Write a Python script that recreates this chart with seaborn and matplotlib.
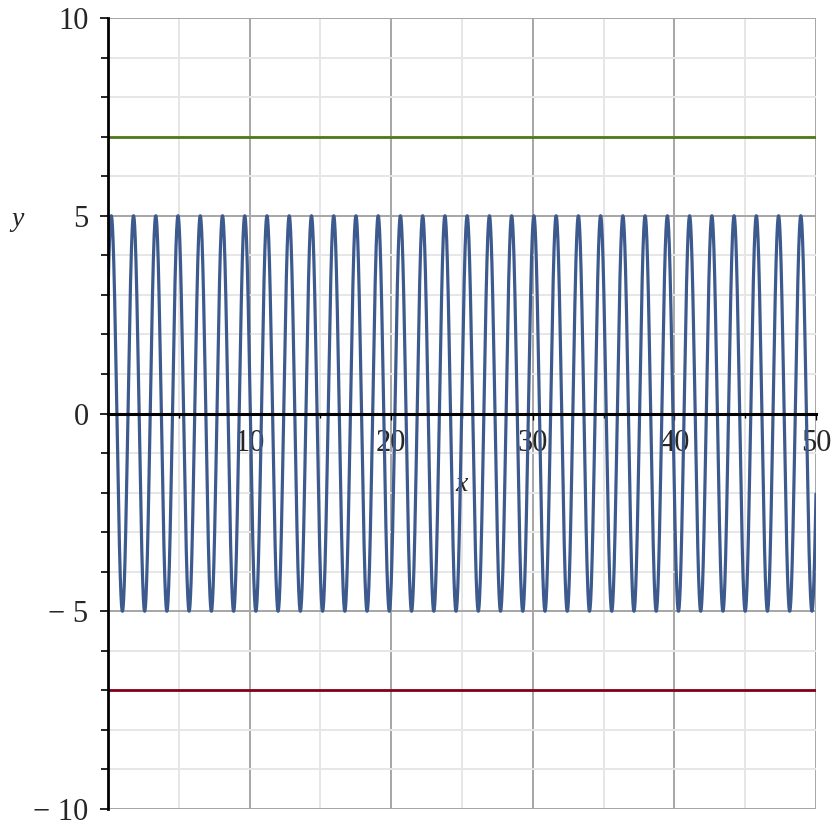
import numpy as np
import pandas as pd
import matplotlib
matplotlib.use("Agg")
import matplotlib.pyplot as plt
import seaborn as sns

# Curve: y = a*sin(k*x) + b*cos(k*x)
# (amplitude 5, starts at y=3 rising, 4 rad per unit x)
sin_coef = 4.0
cos_coef = 3.0
freq = 4.0
x_range = [0, 50]
upper_level = 7
lower_level = -7
y_ticks = [-10, -5, 0, 5, 10]
y_tick_labels = ["\u2212 10", "\u2212 5", "0", "5", "10"]
x_ticks = [10, 20, 30, 40, 50]
x_tick_labels = ["10", "20", "30", "40", "50"]

x = np.linspace(x_range[0], x_range[1], 6000)
curve = pd.DataFrame({"x": x, "y": sin_coef * np.sin(freq * x) + cos_coef * np.cos(freq * x)})
levels = pd.DataFrame({"x": x_range * 2,
                       "y": [upper_level, upper_level, lower_level, lower_level],
                       "line": ["upper", "upper", "lower", "lower"]})

sns.set_style("white")
plt.rcParams["font.family"] = "Liberation Serif"
FONT = "Liberation Serif"

fig = plt.figure(figsize=(8.32, 8.27), dpi=100)
ax = fig.add_axes([108 / 832, 18 / 827, 708 / 832, 791 / 827])

ax.set_xlim(0, 50)
ax.set_ylim(-10, 10)

# grid
ax.set_xticks([5, 15, 25, 35, 45], minor=True)
ax.set_yticks([v for v in range(-10, 11) if v % 5 != 0], minor=True)
ax.set_xticks(x_ticks)
ax.set_yticks(y_ticks)
ax.grid(which="major", color="#a6a6a6", linewidth=1.4, zorder=0)
ax.grid(which="minor", color="#e6e6e6", linewidth=1.4, zorder=0)
ax.axhline(10, color="#a6a6a6", linewidth=1.4, zorder=0)
ax.axhline(-10, color="#a6a6a6", linewidth=1.4, zorder=0)
ax.set_axisbelow(True)

sns.lineplot(data=levels, x="x", y="y", hue="line",
             palette={"upper": "#4c7a18", "lower": "#80001a"},
             linewidth=2.0, legend=False, ax=ax, zorder=3)
sns.lineplot(data=curve, x="x", y="y", color="#3d5a8e", linewidth=2.3,
             ax=ax, zorder=4, estimator=None, sort=False)

# axes: left spine at x=0, bottom spine through y=0
for s in ["top", "right"]:
    ax.spines[s].set_visible(False)
ax.spines["left"].set_color("black")
ax.spines["left"].set_linewidth(2.0)
ax.spines["bottom"].set_position(("data", 0))
ax.spines["bottom"].set_color("black")
ax.spines["bottom"].set_linewidth(2.2)
ax.spines["bottom"].set_zorder(5)
ax.spines["left"].set_zorder(5)

ax.set_yticklabels(y_tick_labels, fontsize=22, fontfamily=FONT)
ax.set_xticklabels(x_tick_labels, fontsize=22, fontfamily=FONT)
ax.tick_params(axis="y", which="major", direction="out", length=6, width=1.2,
               color="black", pad=8, left=True)
ax.tick_params(axis="y", which="minor", direction="out", length=5, width=1.2,
               color="black", left=True)
ax.tick_params(axis="x", which="major", direction="out", length=4, width=1.0,
               color="black", pad=7, bottom=True)
ax.tick_params(axis="x", which="minor", direction="out", length=3, width=1.0,
               color="black", bottom=True)

ax.set_xlabel("")
ax.set_ylabel("")
ax.text(25, -1.8, "x", fontsize=20, style="italic", fontfamily=FONT,
        ha="center", va="center")
ax.text(-91 / 708, 0.745, "y", fontsize=20, style="italic", fontfamily=FONT,
        ha="center", va="center", transform=ax.transAxes)

fig.savefig("out.png", dpi=100)
